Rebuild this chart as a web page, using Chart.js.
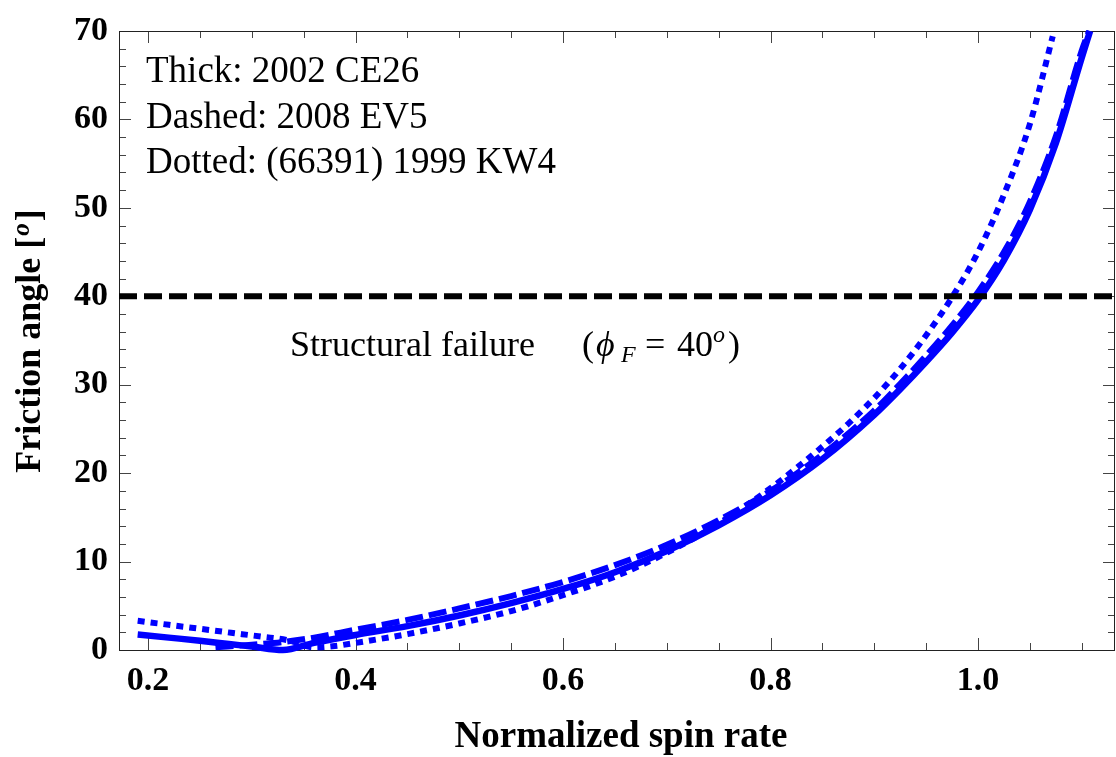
<!DOCTYPE html>
<html><head><meta charset="utf-8">
<script src="https://cdn.jsdelivr.net/npm/chart.js@4/dist/chart.umd.min.js"></script>
<style>html,body{margin:0;padding:0;background:#fff}#wrap{width:1116px;height:757px}</style>
</head><body><div id="wrap"><canvas id="c" width="1116" height="757"></canvas></div>
<script>
// ---- data ----
const thickX  = [0.19,0.22,0.25,0.28,0.30,0.33,0.36,0.40,0.45,0.50,0.55,0.60,0.65,0.70,0.75,0.80,0.85,0.90,0.925,0.95,0.975,1.00,1.025,1.05,1.075,1.10,1.108];
const thickY  = [1.75,1.4,1.05,0.65,0.4,0.0,0.8,1.7,2.7,3.9,5.3,6.9,8.8,11.2,14.1,17.5,21.6,26.6,29.5,32.6,35.9,39.6,44.1,49.8,57.3,67.0,70];
const dashedX = [0.265,0.30,0.33,0.36,0.40,0.45,0.50,0.55,0.60,0.65,0.70,0.75,0.80,0.85,0.90,0.925,0.95,0.975,1.00,1.025,1.05,1.075,1.10,1.107];
const dashedY = [0.3,0.6,0.9,1.4,2.3,3.4,4.7,6.1,7.7,9.6,11.9,14.7,18.0,22.1,27.1,30.1,33.3,36.7,40.5,45.0,50.7,58.1,67.8,70];
const dottedX = [0.19,0.22,0.25,0.28,0.31,0.335,0.36,0.38,0.40,0.45,0.50,0.55,0.60,0.65,0.70,0.75,0.80,0.85,0.875,0.90,0.925,0.95,0.975,1.00,1.025,1.05,1.072];
const dottedY = [3.3,2.85,2.4,1.95,1.5,1.1,0.3,0.45,0.8,1.8,3.0,4.4,6.2,8.3,11.0,14.3,18.3,23.0,25.6,28.5,31.8,35.6,39.9,45.0,51.5,59.5,69.4];
const failureX = [0.172, 1.132];
const failureY = [40, 40];
const xRange = [0.172, 1.132];
const yRange = [0, 70];
const xMajorTicks = [0.2,0.4,0.6,0.8,1.0];
const xTickLabels = ['0.2','0.4','0.6','0.8','1.0'];
const xMinorTicks = [0.25,0.3,0.35,0.45,0.5,0.55,0.65,0.7,0.75,0.85,0.9,0.95,1.05,1.1];
const yMajorTicks = [0,10,20,30,40,50,60,70];
const yTickLabels = ['0','10','20','30','40','50','60','70'];
const yMinorTicks = [2,4,6,8,12,14,16,18,22,24,26,28,32,34,36,38,42,44,46,48,52,54,56,58,62,64,66,68];
const legendLines = ['Thick: 2002 CE26','Dashed: 2008 EV5','Dotted: (66391) 1999 KW4'];
const xTitle = 'Normalized spin rate';

const pts = (xs, ys) => xs.map((x, i) => ({x, y: ys[i]}));
const BLUE = '#0000ff';
const SERIF = '"Liberation Serif","Times New Roman",serif';

const decor = {
  id: 'decor',
  beforeDatasetsDraw(chart) {
    const {ctx, chartArea: a, scales: {x, y}} = chart;
    ctx.save();
    ctx.strokeStyle = '#444';
    ctx.lineWidth = 1;
    ctx.beginPath();
    const tick = (px, len, horiz) => {
      if (horiz) {
        ctx.moveTo(px, a.bottom); ctx.lineTo(px, a.bottom - len);
        ctx.moveTo(px, a.top); ctx.lineTo(px, a.top + len);
      } else {
        ctx.moveTo(a.left, px); ctx.lineTo(a.left + len, px);
        ctx.moveTo(a.right, px); ctx.lineTo(a.right - len, px);
      }
    };
    xMajorTicks.forEach(v => tick(Math.round(x.getPixelForValue(v)) + 0.5, 12, true));
    xMinorTicks.forEach(v => tick(Math.round(x.getPixelForValue(v)) + 0.5, 7, true));
    yMajorTicks.forEach(v => tick(Math.round(y.getPixelForValue(v)) + 0.5, 12, false));
    yMinorTicks.forEach(v => tick(Math.round(y.getPixelForValue(v)) + 0.5, 7, false));
    ctx.stroke();
    ctx.strokeStyle = '#222';
    ctx.strokeRect(Math.round(a.left) + 0.5, Math.round(a.top) + 0.5, Math.round(a.right - a.left) - 1, Math.round(a.bottom - a.top));
    ctx.restore();
  },
  afterDraw(chart) {
    const {ctx, chartArea: a, scales: {x, y}} = chart;
    ctx.save();
    ctx.fillStyle = '#000';
    // tick labels
    ctx.font = 'bold 34px ' + SERIF;
    ctx.textAlign = 'center'; ctx.textBaseline = 'alphabetic';
    xMajorTicks.forEach((v, i) => ctx.fillText(xTickLabels[i], x.getPixelForValue(v), 690));
    ctx.textAlign = 'right'; ctx.textBaseline = 'middle';
    yMajorTicks.forEach((v, i) => ctx.fillText(yTickLabels[i], a.left - 11, y.getPixelForValue(v)));
    // x title
    ctx.textBaseline = 'alphabetic';
    ctx.font = 'bold 37px ' + SERIF;
    ctx.textAlign = 'center';
    ctx.fillText(xTitle, 621, 747);
    // y title with italic superscript o
    ctx.save();
    ctx.translate(40, 341);
    ctx.rotate(-Math.PI / 2);
    ctx.textAlign = 'left';
    const f1 = 'bold 36px ' + SERIF, f2 = 'bold italic 25px ' + SERIF;
    const s1 = 'Friction angle [', s2 = 'o', s3 = ']';
    ctx.font = f1; const w1 = ctx.measureText(s1).width, w3 = ctx.measureText(s3).width;
    ctx.font = f2; const w2 = ctx.measureText(s2).width + 3;
    let cx = -(w1 + w2 + w3) / 2;
    ctx.font = f1; ctx.fillText(s1, cx, 0); cx += w1;
    ctx.font = f2; ctx.fillText(s2, cx + 1, -11); cx += w2;
    ctx.font = f1; ctx.fillText(s3, cx, 0);
    ctx.restore();
    // legend text
    ctx.font = '37px ' + SERIF;
    ctx.textAlign = 'left';
    legendLines.forEach((t, i) => ctx.fillText(t, 146, 82 + i * 45.5));
    // structural failure annotation
    const base = 356;
    const R = '36px ' + SERIF, I = 'italic 36px ' + SERIF, IS = 'italic 24px ' + SERIF;
    const put = (t, font, px, dy) => { ctx.font = font; ctx.fillText(t, px, base + dy); };
    put('Structural failure', R, 290, 0);
    put('(', R, 582, 0);
    put('\u03D5', I, 596, 0);
    put('F', IS, 621, 6);
    put('=', R, 645, 0);
    put('40', R, 677, 0);
    put('o', IS, 713, -14);
    put(')', R, 728, 0);
    ctx.restore();
  }
};

new Chart(document.getElementById('c'), {
  type: 'line',
  data: {
    datasets: [
      {data: pts(failureX, failureY), borderColor: '#000', borderWidth: 6, borderDash: [18, 7], pointRadius: 0, tension: 0},
      {data: pts(thickX, thickY), borderColor: BLUE, borderWidth: 6.5, pointRadius: 0, cubicInterpolationMode: 'monotone', clip: 4},
      {data: pts(dashedX, dashedY), borderColor: BLUE, borderWidth: 6, borderDash: [18, 6], pointRadius: 0, cubicInterpolationMode: 'monotone', clip: 4},
      {data: pts(dottedX, dottedY), borderColor: BLUE, borderWidth: 6, borderDash: [7, 6], pointRadius: 0, cubicInterpolationMode: 'monotone', clip: 4}
    ]
  },
  options: {
    responsive: false, animation: false, devicePixelRatio: 1,
    layout: {padding: {top: 31, right: 1, left: 0, bottom: 0}},
    plugins: {legend: {display: false}, tooltip: {enabled: false}},
    scales: {
      x: {type: 'linear', min: xRange[0], max: xRange[1],
          afterFit: s => { s.height = 107; },
          ticks: {display: false}, grid: {display: false}, border: {display: false}},
      y: {type: 'linear', min: yRange[0], max: yRange[1],
          afterFit: s => { s.width = 119; },
          ticks: {display: false}, grid: {display: false}, border: {display: false}}
    }
  },
  plugins: [decor]
});
</script>
</body></html>
